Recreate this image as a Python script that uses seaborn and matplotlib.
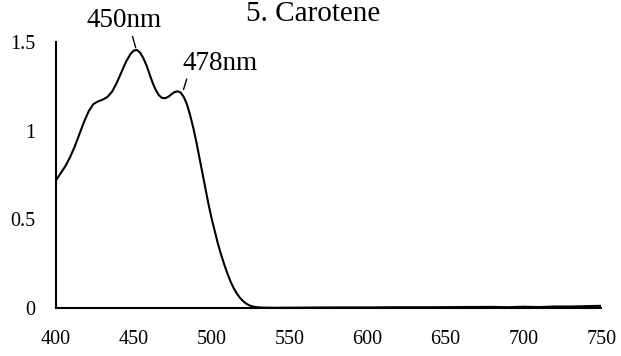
import matplotlib
matplotlib.use("Agg")
import matplotlib.pyplot as plt
import seaborn as sns
import pandas as pd

wavelength = [400, 403, 406, 409, 412, 415, 418, 421, 424, 427, 430, 433, 436, 439, 442, 445, 448,
              450, 452, 454, 456, 458, 460, 462, 464, 466, 468, 470, 472, 474, 476, 478, 480, 482,
              484, 486, 488, 490, 492, 494, 496, 498, 500, 502, 504, 506, 508, 510, 512, 514, 516,
              518, 520, 522, 524, 526, 528, 532, 540, 560, 580, 600, 620, 640, 660, 680, 690, 700,
              710, 720, 730, 740, 750]
absorbance = [0.72, 0.76, 0.80, 0.85, 0.91, 0.98, 1.05, 1.11, 1.15, 1.165, 1.175, 1.19, 1.22, 1.27,
              1.33, 1.39, 1.435, 1.452, 1.455, 1.44, 1.41, 1.37, 1.32, 1.27, 1.23, 1.20, 1.185, 1.183,
              1.19, 1.205, 1.217, 1.222, 1.215, 1.19, 1.15, 1.09, 1.02, 0.94, 0.85, 0.76, 0.67, 0.58,
              0.50, 0.43, 0.36, 0.30, 0.245, 0.195, 0.15, 0.113, 0.082, 0.058, 0.039, 0.025, 0.015,
              0.009, 0.005, 0.002, 0.001, 0.002, 0.003, 0.003, 0.004, 0.004, 0.005, 0.006, 0.004,
              0.007, 0.005, 0.008, 0.008, 0.010, 0.012]
x_ticks = [400, 450, 500, 550, 600, 650, 700, 750]
y_ticks = [0, 0.5, 1, 1.5]
y_tick_labels = ["0", "0.5", "1", "1.5"]
title = "5. Carotene"
peak_labels = ["450nm", "478nm"]

sns.set_theme(style="white")
plt.rcParams["font.family"] = ["Liberation Serif", "DejaVu Serif"]

df = pd.DataFrame({"wavelength": wavelength, "absorbance": absorbance})

fig = plt.figure(figsize=(6.21, 3.56), dpi=100)
ax = fig.add_axes([0.0902, 0.135, 0.878, 0.747])
sns.lineplot(data=df, x="wavelength", y="absorbance", color="black", linewidth=1.5, ax=ax)

ax.set_xlim(400, 750)
ax.set_ylim(0, 1.5)
ax.set_xticks(x_ticks)
ax.set_xticklabels([str(t) for t in x_ticks])
ax.set_yticks(y_ticks)
ax.set_yticklabels(y_tick_labels)
ax.set_xlabel("")
ax.set_ylabel("")
for s in ["top", "right"]:
    ax.spines[s].set_visible(False)
for s in ["left", "bottom"]:
    ax.spines[s].set_color("black")
    ax.spines[s].set_linewidth(1.5)
ax.tick_params(axis="both", direction="in", length=6, width=1.3, colors="black", labelsize=14.5)
ax.tick_params(axis="x", pad=16)
ax.tick_params(axis="y", pad=15)

fig.text(0.504, 0.998, title, ha="center", va="top", fontsize=21, color="black")

ax.annotate(peak_labels[0], xy=(451.4, 1.46), xytext=(443.7, 1.62), textcoords="data",
            ha="center", va="center", fontsize=19.5, color="black",
            arrowprops=dict(arrowstyle="-", color="black", lw=1.0, relpos=(0.6, 0.0),
                            shrinkA=0, shrinkB=1))
ax.annotate(peak_labels[1], xy=(481.6, 1.225), xytext=(505.3, 1.38), textcoords="data",
            ha="center", va="center", fontsize=19.5, color="black",
            arrowprops=dict(arrowstyle="-", color="black", lw=1.0, relpos=(0.07, 0.0),
                            shrinkA=0, shrinkB=1))
for t in ax.texts:
    t.set_clip_on(False)

fig.savefig("out.png", dpi=100)
